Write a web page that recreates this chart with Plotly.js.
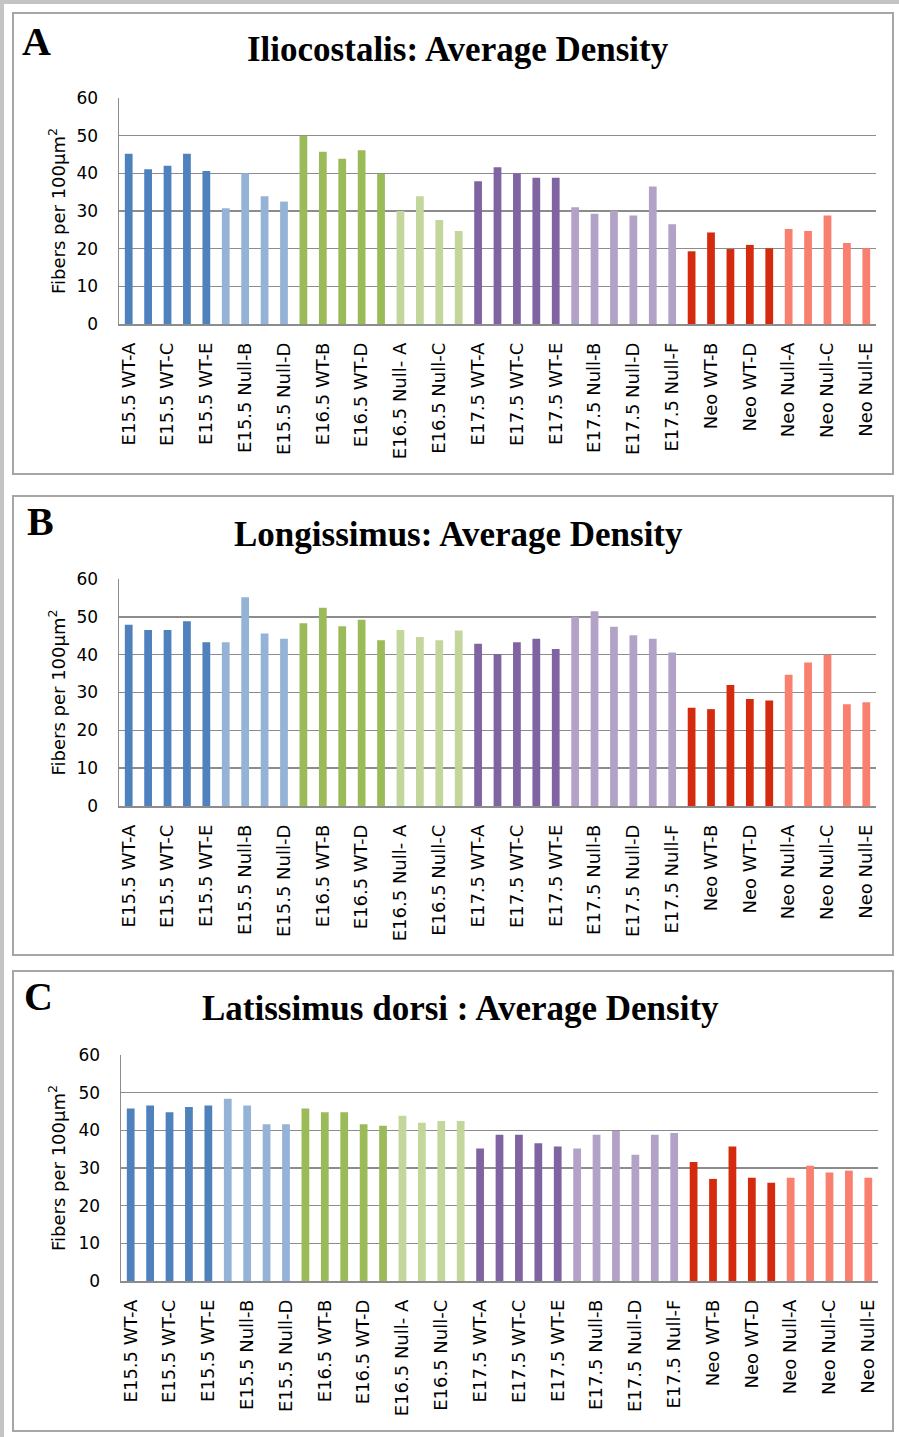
<!DOCTYPE html>
<html><head><meta charset="utf-8">
<script src="https://cdn.plot.ly/plotly-3.0.1.min.js"></script>
<style>html,body{margin:0;padding:0;background:#fff}#chart{width:899px;height:1437px}</style>
</head><body><div id="chart"></div>
<script>
// ---- data ----
const categories = [
  "E15.5 WT-A","E15.5 WT-B","E15.5 WT-C","E15.5 WT-D","E15.5 WT-E",
  "E15.5 Null-A","E15.5 Null-B","E15.5 Null-C","E15.5 Null-D",
  "E16.5 WT-A","E16.5 WT-B","E16.5 WT-C","E16.5 WT-D","E16.5 WT-E",
  "E16.5 Null- A","E16.5 Null-B","E16.5 Null-C","E16.5 Null-D",
  "E17.5 WT-A","E17.5 WT-B","E17.5 WT-C","E17.5 WT-D","E17.5 WT-E",
  "E17.5 Null-A","E17.5 Null-B","E17.5 Null-C","E17.5 Null-D","E17.5 Null-E","E17.5 Null-F",
  "Neo WT-A","Neo WT-B","Neo WT-C","Neo WT-D","Neo WT-E",
  "Neo Null-A","Neo Null-B","Neo Null-C","Neo Null-D","Neo Null-E"
];
const groupSizes = [5,4,5,4,5,6,5,5];
const iliocostalis = [
  45.2,41.1,42.0,45.2,40.6,
  30.7,40.0,33.9,32.5,
  50.0,45.7,43.9,46.1,39.9,
  30.0,33.9,27.6,24.7,
  37.9,41.6,40.0,38.8,38.8,
  31.0,29.3,30.1,28.8,36.5,26.5,
  19.3,24.3,19.9,21.0,20.1,
  25.2,24.7,28.8,21.5,20.1
];
const longissimus = [
  47.9,46.5,46.5,48.8,43.3,
  43.3,55.2,45.6,44.2,
  48.3,52.4,47.5,49.2,43.8,
  46.5,44.7,43.8,46.4,
  42.9,40.2,43.3,44.2,41.5,
  50.0,51.5,47.4,45.1,44.2,40.6,
  26.0,25.6,32.0,28.3,27.9,
  34.7,37.9,40.0,26.9,27.4
];
const latissimus = [
  45.8,46.6,44.8,46.2,46.6,
  48.4,46.6,41.6,41.6,
  45.8,44.8,44.8,41.6,41.2,
  43.9,42.0,42.5,42.5,
  35.2,38.8,38.8,36.6,35.7,
  35.2,38.8,39.8,33.5,38.8,39.3,
  31.6,27.1,35.7,27.4,26.1,
  27.4,30.6,28.8,29.3,27.4
];
const panelTitles = ["Iliocostalis: Average Density","Longissimus: Average Density","Latissimus dorsi : Average Density"];
const panelLetters = ["A","B","C"];
const yAxisTitle = "Fibers per 100µm<sup>2</sup>";

// ---- style ----
const groupColors = ["#4F81BD","#95B3D7","#9BBB59","#C3D69B","#8064A2","#B3A2C7","#D42A0E","#F9806F"];
const barColors = [];
groupSizes.forEach((n,g)=>{ for(let i=0;i<n;i++) barColors.push(groupColors[g]); });
const shownTicks = categories.filter((c,i)=>i%2===0);

const W=899, H=1437;
const px = x => x/W, py = y => 1 - y/H;
const panels = [
  {vals: iliocostalis, x0:119, x1:876, y0:98,  y1:324, box:[13,13,893,474],  title:[458,50],  letter:[36,42]},
  {vals: longissimus,  x0:119, x1:876, y0:579, y1:806, box:[13,496,893,955], title:[458,534], letter:[40,521]},
  {vals: latissimus,   x0:121, x1:878, y0:1055,y1:1281,box:[13,971,893,1431],title:[460,1008],letter:[38,996]}
];

const traces=[]; const layout = {
  width:W, height:H, margin:{l:0,r:0,t:0,b:0}, showlegend:false,
  paper_bgcolor:"#fff", plot_bgcolor:"#fff", bargap:0.6,
  shapes:[], annotations:[]
};
const gridC = "#8c8c8c";
panels.forEach((p,i)=>{
  const s = i===0 ? "" : String(i+1);
  traces.push({type:"bar", x:categories, y:p.vals, xaxis:"x"+s, yaxis:"y"+s,
    marker:{color:barColors, line:{width:0}}, hoverinfo:"x+y"});
  layout["xaxis"+s] = {domain:[px(p.x0),px(p.x1)], anchor:"y"+s, type:"category",
    tickmode:"array", tickvals:shownTicks, tickangle:-90, ticks:"", ticklabelstandoff:10,
    tickfont:{family:"DejaVu Sans, Verdana, sans-serif", size:18, color:"#000"},
    showline:true, linecolor:gridC, linewidth:1.5, showgrid:false, fixedrange:true};
  layout["yaxis"+s] = {domain:[py(p.y1),py(p.y0)], anchor:"x"+s, range:[0,60], dtick:10,
    tickmode:"linear", tick0:0, ticks:"", ticklabelstandoff:16,
    tickfont:{family:"DejaVu Sans, Verdana, sans-serif", size:17, color:"#000"},
    showline:true, linecolor:gridC, linewidth:1.5, gridcolor:gridC, gridwidth:1.5,
    zeroline:false, fixedrange:true};
  layout.shapes.push({type:"rect", xref:"paper", yref:"paper",
    x0:px(p.box[0]), x1:px(p.box[2]), y0:py(p.box[3]), y1:py(p.box[1]),
    line:{color:"#a6a6a6", width:2}, fillcolor:"rgba(0,0,0,0)"});
  layout.annotations.push({xref:"paper", yref:"paper", x:px(p.title[0]), y:py(p.title[1]),
    xanchor:"center", yanchor:"middle", showarrow:false, text:panelTitles[i],
    font:{family:"Liberation Serif, DejaVu Serif, serif", size:35, color:"#000", weight:"bold"}});
  layout.annotations.push({xref:"paper", yref:"paper", x:px(p.letter[0]), y:py(p.letter[1]),
    xanchor:"center", yanchor:"middle", showarrow:false, text:panelLetters[i],
    font:{family:"Liberation Serif, DejaVu Serif, serif", size:40, color:"#000", weight:"bold"}});
  layout.annotations.push({xref:"paper", yref:"paper", x:px(57), y:py((p.y0+p.y1)/2),
    xanchor:"center", yanchor:"middle", showarrow:false, textangle:-90, text:yAxisTitle,
    font:{family:"DejaVu Sans, Verdana, sans-serif", size:18, color:"#000"}});
});
// outer page frame (grey edge at top and left)
layout.shapes.push({type:"rect", xref:"paper", yref:"paper", x0:0, x1:1, y0:py(4), y1:1,
  line:{width:0}, fillcolor:"#c4c4c4", layer:"below"});
layout.shapes.push({type:"rect", xref:"paper", yref:"paper", x0:0, x1:px(4), y0:0, y1:1,
  line:{width:0}, fillcolor:"#c4c4c4", layer:"below"});

Plotly.newPlot("chart", traces, layout, {displayModeBar:false, staticPlot:true});
</script></body></html>
